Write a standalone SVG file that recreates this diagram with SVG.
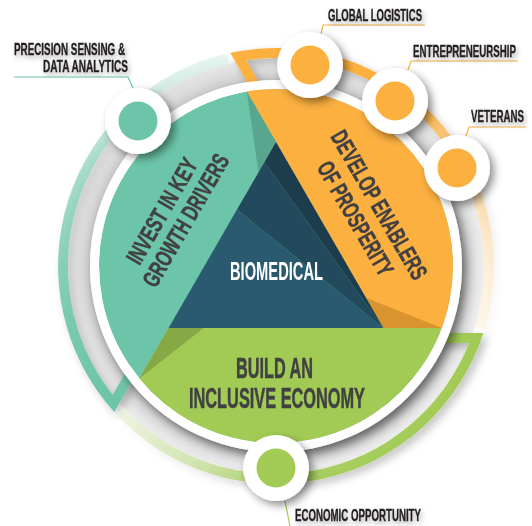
<svg xmlns="http://www.w3.org/2000/svg" width="532" height="526" viewBox="0 0 532 526">
<defs>
<style>
.lbl{font-family:'Liberation Sans Narrow','Liberation Sans',Arial,sans-serif;font-weight:700;font-size:16.5px;fill:#231f20;stroke:#231f20;stroke-width:0.35px}
.big{font-family:'Liberation Sans Narrow','Liberation Sans',Arial,sans-serif;font-weight:700;fill:#414042;stroke:#414042;stroke-width:0.5px}
.bio{font-family:'Liberation Sans Narrow','Liberation Sans',Arial,sans-serif;font-weight:700;fill:#ffffff;font-size:25px}
.lead{fill:none;stroke-width:1.2}
.ring-w{fill:#ffffff}
</style>
<filter id="sh" x="-30%" y="-30%" width="160%" height="160%">
<feDropShadow dx="4" dy="5" stdDeviation="5" flood-color="#000" flood-opacity="0.5"/>
</filter>
<filter id="shn" x="-40%" y="-40%" width="180%" height="180%">
<feDropShadow dx="4" dy="4" stdDeviation="4" flood-color="#000" flood-opacity="0.45"/>
</filter>
<filter id="shb" x="-20%" y="-20%" width="140%" height="140%">
<feDropShadow dx="4" dy="4" stdDeviation="4" flood-color="#000" flood-opacity="0.25"/>
</filter>
<filter id="sht" x="-4%" y="-40%" width="110%" height="180%">
<feDropShadow dx="2" dy="3" stdDeviation="2.5" flood-color="#000" flood-opacity="0.3"/>
</filter>
<radialGradient id="annul" gradientUnits="userSpaceOnUse" cx="276" cy="266" r="210">
<stop offset="0.88" stop-color="#c9c9c9"/>
<stop offset="0.94" stop-color="#dedede"/>
<stop offset="1" stop-color="#f4f4f4"/>
</radialGradient>
<linearGradient id="gG" gradientUnits="userSpaceOnUse" x1="483" y1="338" x2="120" y2="411">
<stop offset="0" stop-color="#a1cb54" stop-opacity="1"/>
<stop offset="0.62" stop-color="#a1cb54" stop-opacity="0.9"/>
<stop offset="0.81" stop-color="#a1cb54" stop-opacity="0.45"/>
<stop offset="1" stop-color="#a1cb54" stop-opacity="0.15"/>
</linearGradient>
<linearGradient id="gT" gradientUnits="userSpaceOnUse" x1="483" y1="338" x2="120" y2="411">
<stop offset="0" stop-color="#6cc5a9" stop-opacity="1"/>
<stop offset="0.18" stop-color="#6cc5a9" stop-opacity="0.9"/>
<stop offset="0.61" stop-color="#6cc5a9" stop-opacity="0.55"/>
<stop offset="0.885" stop-color="#6cc5a9" stop-opacity="0.25"/>
<stop offset="1" stop-color="#6cc5a9" stop-opacity="0.15"/>
</linearGradient>
<linearGradient id="gO" gradientUnits="userSpaceOnUse" x1="483" y1="338" x2="120" y2="411">
<stop offset="0" stop-color="#fbb040" stop-opacity="1"/>
<stop offset="0.4" stop-color="#fbb040" stop-opacity="1"/>
<stop offset="0.53" stop-color="#fbb040" stop-opacity="0.7"/>
<stop offset="0.74" stop-color="#fbb040" stop-opacity="0.35"/>
<stop offset="0.88" stop-color="#fbb040" stop-opacity="0.18"/>
<stop offset="1" stop-color="#fbb040" stop-opacity="0.1"/>
</linearGradient>
<path id="band" d="M440,333 L483.4,333 A218,218 0 0 1 116.6,414.7 L123.9,407.9 A208,208 0 0 0 469.2,343 L440,343 Z"/>
<clipPath id="disc"><circle cx="276" cy="266" r="177"/></clipPath>
</defs>

<rect width="532" height="526" fill="#ffffff"/>

<!-- shadow annulus -->
<circle cx="276" cy="266" r="197" fill="none" stroke="url(#annul)" stroke-width="22"/>

<!-- outer segmented bands -->
<g id="bands" filter="url(#shb)">
<use href="#band" fill="url(#gG)"/>
<use href="#band" fill="url(#gT)" transform="rotate(120 276 266)"/>
<use href="#band" fill="url(#gO)" transform="rotate(240 276 266)"/>
</g>

<!-- white ring with shadow -->
<circle class="ring-w" cx="276" cy="266" r="186" filter="url(#sh)"/>

<!-- disc -->
<g id="disc-regions" clip-path="url(#disc)">
<circle cx="276" cy="266" r="177" fill="#6cc5a9"/>
<polygon points="276,142 217,39.8 520,39.8 520,328 383.4,328" fill="#fbb040"/>
<polygon points="168.6,328 520,328 520,520 57.7,520" fill="#a1cb54"/>
<polygon points="276,142 258.5,172.3 246.8,91.4" fill="#58a68d"/>
<polygon points="383.4,328 365.9,297.7 441.8,328" fill="#d9942f"/>
<polygon points="168.6,328 203.6,328 139.4,378.6" fill="#86a845"/>
</g>

<g id="biomedical">
<polygon points="237,209.5 168.6,328 383.4,328" fill="#2a5a6f"/>
<polygon points="264.5,161.9 237,209.5 383.4,328" fill="#23495c"/>
<polygon points="276,142 264.5,161.9 383.4,328" fill="#1d3c4c"/>
<text class="bio" x="230" y="280" textLength="93" lengthAdjust="spacingAndGlyphs">BIOMEDICAL</text>
</g>

<g id="invest" transform="translate(173.5,215.5) rotate(-60)">
<text class="big" font-size="24" x="-2" y="-4" text-anchor="middle" textLength="118" lengthAdjust="spacingAndGlyphs">INVEST IN KEY</text>
<text class="big" font-size="24" x="2" y="21.3" text-anchor="middle" textLength="149" lengthAdjust="spacingAndGlyphs">GROWTH DRIVERS</text>
</g>

<g id="develop" transform="translate(367.75,211.5) rotate(60)">
<text class="big" font-size="24" x="0" y="-5" text-anchor="middle" textLength="168" lengthAdjust="spacingAndGlyphs">DEVELOP ENABLERS</text>
<text class="big" font-size="24" x="0" y="22.4" text-anchor="middle" textLength="128" lengthAdjust="spacingAndGlyphs">OF PROSPERITY</text>
</g>

<g id="build">
<text class="big" font-size="29" x="236" y="378" textLength="77" lengthAdjust="spacingAndGlyphs">BUILD AN</text>
<text class="big" font-size="29" x="189" y="408" textLength="176" lengthAdjust="spacingAndGlyphs">INCLUSIVE ECONOMY</text>
</g>

<!-- connectors (leader lines) -->
<g id="connectors">
<polyline class="lead" points="14,77 128,77 133,88" stroke="#6cc5a9"/>
<polyline class="lead" points="425,25 323,25 321,34" stroke="#f6b04a"/>
<polyline class="lead" points="518,61 411,61 408,70" stroke="#f6b04a"/>
<polyline class="lead" points="526,127 469,127 466,136" stroke="#f6b04a"/>
<polyline class="lead" points="285,501 290,526" stroke="#a1cb54"/>
</g>

<!-- nodes -->
<g id="node-precision">
<circle cx="138" cy="121" r="33" fill="#fff" filter="url(#shn)"/>
<circle cx="138" cy="121" r="19.5" fill="#6cc5a9"/>
<text class="lbl" x="14" y="55" textLength="111" lengthAdjust="spacingAndGlyphs" filter="url(#sht)">PRECISION SENSING &amp;</text>
<text class="lbl" x="43" y="72" textLength="85" lengthAdjust="spacingAndGlyphs" filter="url(#sht)">DATA ANALYTICS</text>
</g>
<g id="node-logistics">
<circle cx="310" cy="65" r="33" fill="#fff" filter="url(#shn)"/>
<circle cx="310" cy="65" r="19.5" fill="#fbb040"/>
<text class="lbl" x="328" y="21" textLength="94" lengthAdjust="spacingAndGlyphs" filter="url(#sht)">GLOBAL LOGISTICS</text>
</g>
<g id="node-entrepreneurship">
<circle cx="395" cy="101" r="33" fill="#fff" filter="url(#shn)"/>
<circle cx="395" cy="101" r="19.5" fill="#fbb040"/>
<text class="lbl" x="516" y="57" text-anchor="end" textLength="103" lengthAdjust="spacingAndGlyphs" filter="url(#sht)">ENTREPRENEURSHIP</text>
</g>
<g id="node-veterans">
<circle cx="457" cy="168" r="33" fill="#fff" filter="url(#shn)"/>
<circle cx="457" cy="168" r="19.5" fill="#fbb040"/>
<text class="lbl" x="524" y="122" text-anchor="end" textLength="53" lengthAdjust="spacingAndGlyphs" filter="url(#sht)">VETERANS</text>
</g>
<g id="node-economic">
<circle cx="276" cy="468" r="33" fill="#fff" filter="url(#shn)"/>
<circle cx="276" cy="468" r="19.5" fill="#a1cb54"/>
<text class="lbl" x="295" y="521" textLength="126" lengthAdjust="spacingAndGlyphs" filter="url(#sht)">ECONOMIC OPPORTUNITY</text>
</g>
</svg>
